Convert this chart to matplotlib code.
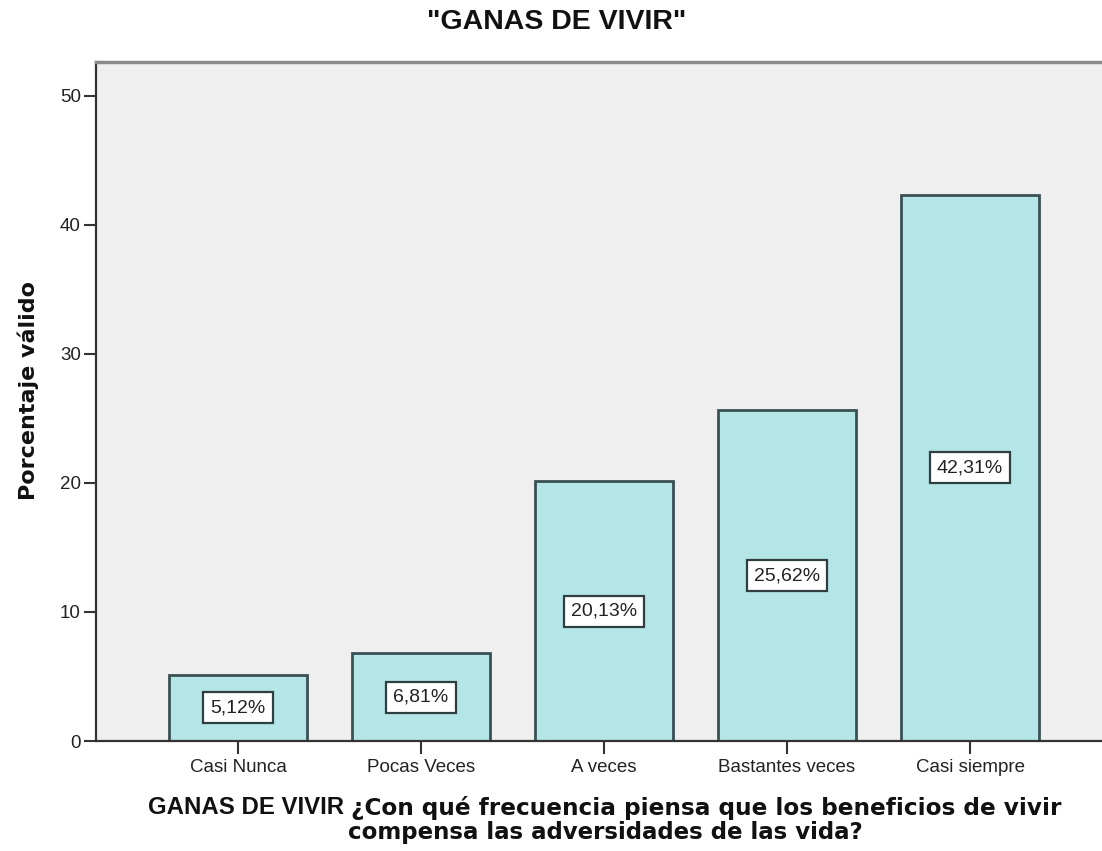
import matplotlib
matplotlib.use("Agg")
import matplotlib.pyplot as plt

categories = ["Casi Nunca", "Pocas Veces", "A veces", "Bastantes veces", "Casi siempre"]
values = [5.12, 6.81, 20.13, 25.62, 42.31]
labels = ["5,12%", "6,81%", "20,13%", "25,62%", "42,31%"]
yticks = [0, 10, 20, 30, 40, 50]

fig = plt.figure(figsize=(11.02, 8.51), dpi=100)
ax = fig.add_axes([96/1102, 1 - 741/851, 1 - 96/1102, (741 - 62)/851])
ax.set_facecolor("#efefef")

x = list(range(len(categories)))
ax.bar(x, values, width=0.754, color="#b4e5e7", edgecolor="#3a5053", linewidth=2.0, zorder=2)

for xi, v, lab in zip(x, values, labels):
    ax.text(xi, v / 2, lab, ha="center", va="center", fontsize=14, family="Liberation Sans",
            color="#222222", zorder=3,
            bbox=dict(boxstyle="square,pad=0.36", facecolor="white", edgecolor="#2f3f40", linewidth=1.6))

ax.set_xlim(-0.776, 4.721)
ax.set_ylim(0, 52.6)
ax.set_xticks(x)
ax.set_xticklabels(categories, fontsize=13.5, family="Liberation Sans", color="#222222")
ax.set_yticks(yticks)
ax.set_yticklabels([str(t) for t in yticks], fontsize=13.5, family="Liberation Sans", color="#222222")
ax.tick_params(axis="x", length=9, width=1.5, color="#333333", pad=4)
ax.tick_params(axis="y", length=9, width=1.5, color="#333333", pad=2)

ax.spines["right"].set_visible(False)
ax.spines["top"].set_color("#8a8a8a")
ax.spines["top"].set_linewidth(2.5)
for s in ["left", "bottom"]:
    ax.spines[s].set_color("#333333")
    ax.spines[s].set_linewidth(1.6)

fig.text(557/1102, 1 - 22/851, '"GANAS DE VIVIR"', ha="center", va="center",
         fontsize=20.5, fontweight="bold", family="Liberation Sans", color="#111111")

fig.text(28/1102, 1 - 391/851, "Porcentaje válido", rotation=90, ha="center", va="center",
         fontsize=16, fontweight="bold", family="DejaVu Sans", color="#111111")

# x axis label: first part in a narrower bold font, rest in DejaVu Sans Bold
fig.canvas.draw()
renderer = fig.canvas.get_renderer()
part1 = "GANAS DE VIVIR "
part2 = "¿Con qué frecuencia piensa que los beneficios de vivir"
t1 = fig.text(0, 1 - 808/851, part1, ha="left", va="center", fontsize=17.3,
              fontweight="bold", family="Liberation Sans", color="#111111")
t2 = fig.text(0, 1 - 808/851, part2, ha="left", va="center", fontsize=16.7,
              fontweight="bold", family="DejaVu Sans", color="#111111")
w1 = t1.get_window_extent(renderer).width
w2 = t2.get_window_extent(renderer).width
cx = 605
start = cx - (w1 + w2) / 2
t1.set_x(start / 1102)
t2.set_x((start + w1) / 1102)
fig.text(cx/1102, 1 - 832/851, "compensa las adversidades de las vida?", ha="center", va="center",
         fontsize=16.5, fontweight="bold", family="DejaVu Sans", color="#111111")

fig.savefig("out.png", dpi=100)
